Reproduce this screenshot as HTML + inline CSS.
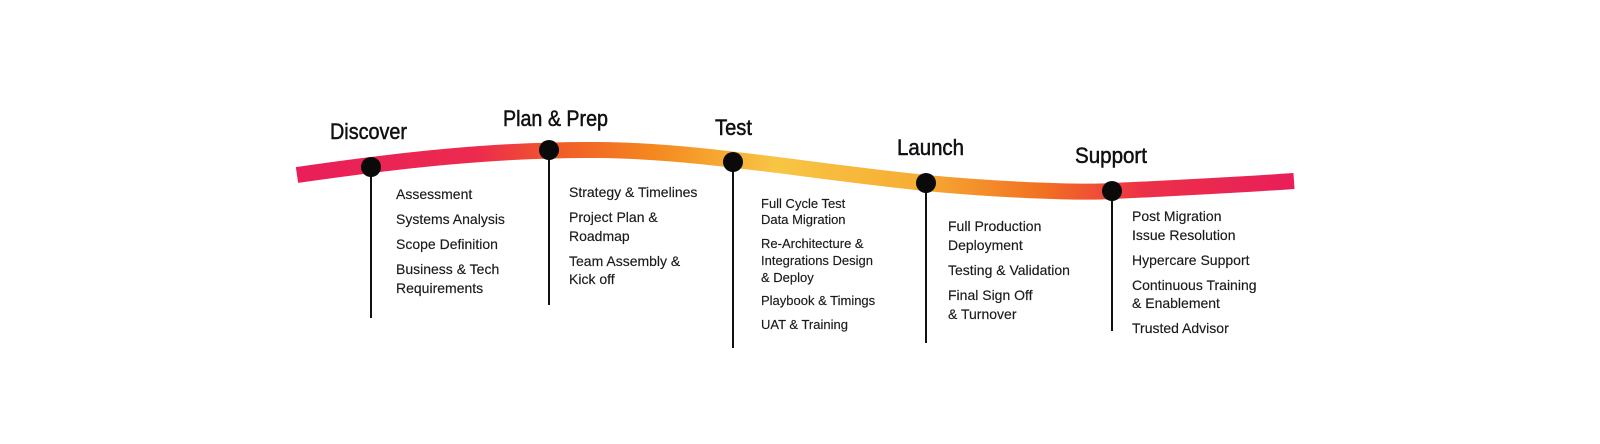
<!DOCTYPE html>
<html><head><meta charset="utf-8"><style>
html,body{margin:0;padding:0;background:#fff;}
svg{display:block;}
.t{font-family:"Liberation Sans",sans-serif;font-size:22px;fill:#111;stroke:#111;stroke-width:0.5;}
.b{font-family:"Liberation Sans",sans-serif;font-size:14px;fill:#1a1a1a;stroke:#1a1a1a;stroke-width:0.15;}
.s{font-family:"Liberation Sans",sans-serif;font-size:13px;fill:#1a1a1a;stroke:#1a1a1a;stroke-width:0.15;}
</style></head><body>
<svg width="1600" height="444" viewBox="0 0 1600 444" xmlns="http://www.w3.org/2000/svg">
<defs>
<linearGradient id="g" x1="297" y1="0" x2="1294" y2="0" gradientUnits="userSpaceOnUse">
<stop offset="0" stop-color="#e91e5a"/>
<stop offset="0.18" stop-color="#ec2a4e"/>
<stop offset="0.26" stop-color="#f05a2a"/>
<stop offset="0.36" stop-color="#f4891f"/>
<stop offset="0.48" stop-color="#f8c545"/>
<stop offset="0.62" stop-color="#f6ae34"/>
<stop offset="0.75" stop-color="#f26f22"/>
<stop offset="0.85" stop-color="#ec3048"/>
<stop offset="1" stop-color="#e91e5a"/>
</linearGradient>
</defs>
<path d="M297,175 C400,160 500,149 600,150 C700,151 800,170 926,183 C1000,190 1080,193 1112,191 C1180,188 1250,184 1294,181" fill="none" stroke="url(#g)" stroke-width="16"/>
<g stroke="#111" stroke-width="2">
<line x1="371" y1="167" x2="371" y2="318"/>
<line x1="549" y1="150" x2="549" y2="305"/>
<line x1="733" y1="162" x2="733" y2="348"/>
<line x1="926" y1="183" x2="926" y2="343"/>
<line x1="1112" y1="191" x2="1112" y2="331"/>
</g>
<g fill="#0a0a0a">
<circle cx="371" cy="167" r="10"/>
<circle cx="549" cy="150" r="10"/>
<circle cx="733" cy="162" r="10"/>
<circle cx="926" cy="183" r="10"/>
<circle cx="1112" cy="191" r="10"/>
</g>
<text class="t" x="330" y="139" textLength="77" lengthAdjust="spacingAndGlyphs">Discover</text>
<text class="t" x="503" y="126" textLength="105" lengthAdjust="spacingAndGlyphs">Plan &amp; Prep</text>
<text class="t" x="715" y="135" textLength="37" lengthAdjust="spacingAndGlyphs">Test</text>
<text class="t" x="897" y="155" textLength="67" lengthAdjust="spacingAndGlyphs">Launch</text>
<text class="t" x="1075" y="163" textLength="72" lengthAdjust="spacingAndGlyphs">Support</text>

<text class="b" x="396" y="199">Assessment</text>
<text class="b" x="396" y="224">Systems Analysis</text>
<text class="b" x="396" y="249">Scope Definition</text>
<text class="b" x="396" y="274">Business &amp; Tech</text>
<text class="b" x="396" y="293">Requirements</text>

<text class="b" x="569" y="197">Strategy &amp; Timelines</text>
<text class="b" x="569" y="222">Project Plan &amp;</text>
<text class="b" x="569" y="241">Roadmap</text>
<text class="b" x="569" y="266">Team Assembly &amp;</text>
<text class="b" x="569" y="284">Kick off</text>

<text class="s" x="761" y="208">Full Cycle Test</text>
<text class="s" x="761" y="224">Data Migration</text>
<text class="s" x="761" y="248">Re-Architecture  &amp;</text>
<text class="s" x="761" y="265">Integrations Design</text>
<text class="s" x="761" y="282">&amp; Deploy</text>
<text class="s" x="761" y="305">Playbook &amp; Timings</text>
<text class="s" x="761" y="329">UAT &amp; Training</text>

<text class="b" x="948" y="231">Full Production</text>
<text class="b" x="948" y="250">Deployment</text>
<text class="b" x="948" y="275">Testing &amp; Validation</text>
<text class="b" x="948" y="300">Final Sign Off</text>
<text class="b" x="948" y="319">&amp; Turnover</text>

<text class="b" x="1132" y="221">Post Migration</text>
<text class="b" x="1132" y="240">Issue Resolution</text>
<text class="b" x="1132" y="265">Hypercare Support</text>
<text class="b" x="1132" y="290">Continuous Training</text>
<text class="b" x="1132" y="308">&amp; Enablement</text>
<text class="b" x="1132" y="333">Trusted Advisor</text>
</svg>
</body></html>
